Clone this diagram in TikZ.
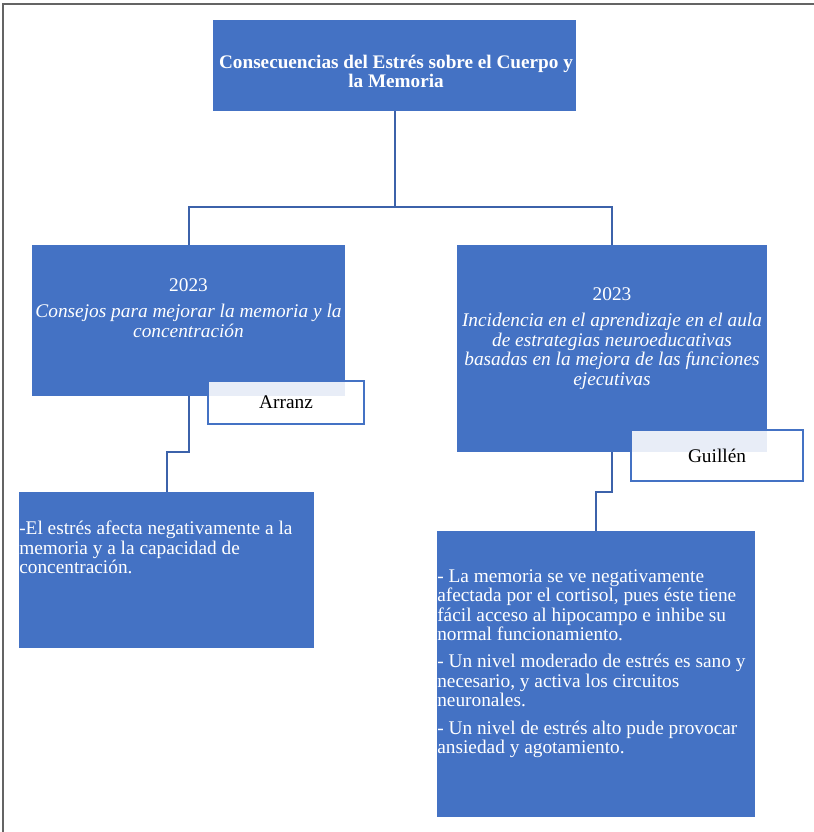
\documentclass[tikz,border=0pt]{standalone}
\usepackage{fontspec}
\setmainfont{Liberation Serif}
\usepackage{xcolor}
\usepackage{tikz}
\definecolor{officeblue}{RGB}{68,114,196}
\definecolor{linkblue}{RGB}{60,98,170}
\definecolor{framegray}{RGB}{100,100,100}

\begin{document}
\begin{tikzpicture}[
        x=0.75pt, y=-0.75pt,
        card/.style={fill=officeblue, inner sep=0pt},
        cardtext/.style={text=white, inner sep=0pt, font=\fontsize{14.5}{14.6}\selectfont},
        tag/.style={draw=officeblue, line width=1.1pt, fill=white, fill opacity=0.88, text opacity=1, inner sep=0pt, font=\fontsize{14.5}{14.6}\selectfont},
        link/.style={draw=linkblue, line width=1.5pt}
    ]
        \useasboundingbox (0,0) rectangle (814,832);
        \draw[framegray, line width=1.5pt] (3,832) -- (3,4) -- (814,4);

        \node[card, minimum width=272.25pt, minimum height=68.25pt] (top) at (394.5,65.5) {};
        \node[card, minimum width=234.75pt, minimum height=113.25pt] (c1) at (188.5,320.5) {};
        \node[card, minimum width=232.5pt, minimum height=155.25pt] (c2) at (612,348.5) {};
        \node[card, minimum width=221.25pt, minimum height=117pt] (n1) at (166.5,570) {};
        \node[card, minimum width=238.5pt, minimum height=214.5pt] (n2) at (596,674) {};

        \node[cardtext, font=\fontsize{14.4}{12.8}\selectfont\bfseries, align=center, anchor=north] (toptxt) at (396,55)
            {Consecuencias del Estrés sobre el Cuerpo y\\la Memoria};
        \node[cardtext, align=center, anchor=north] (c1txt) at (188.5,278)
            {2023\\[5.3pt]\textit{Consejos para mejorar la memoria y la}\\\textit{concentración}};
        \node[cardtext, align=center, anchor=north] (c2txt) at (612,287)
            {2023\\[5.3pt]\textit{Incidencia en el aprendizaje en el aula}\\\textit{de estrategias neuroeducativas}\\\textit{basadas en la mejora de las funciones}\\\textit{ejecutivas}};
        \node[cardtext, align=left, anchor=north west] (n1txt) at (19,521)
            {-El estrés afecta negativamente a la\\memoria y a la capacidad de\\concentración.};
        \node[cardtext, align=left, anchor=north west] (n2txt) at (437,569)
            {- La memoria se ve negativamente\\afectada por el cortisol, pues éste tiene\\fácil acceso al hipocampo e inhibe su\\normal funcionamiento.\\[6pt]- Un nivel moderado de estrés es sano y\\necesario, y activa los circuitos\\neuronales.\\[6pt]- Un nivel de estrés alto pude provocar\\ansiedad y agotamiento.};

        \draw[link] (top.south) -- ++(0,96) -| (c1.north);
        \draw[link] (top.south) -- ++(0,96) -| (c2.north);
        \draw[link] (c1.south) -- ++(0,56) -| (n1.north);
        \draw[link] (c2.south) -- ++(0,40) -| (n2.north);

        \node[tag, minimum width=117pt, minimum height=32.25pt] (arranz) at (286,402.5) {Arranz};
        \node[tag, minimum width=129pt, minimum height=38.25pt] (guillen) at (717,455.5) {Guillén};
    \end{tikzpicture}
\end{document}
